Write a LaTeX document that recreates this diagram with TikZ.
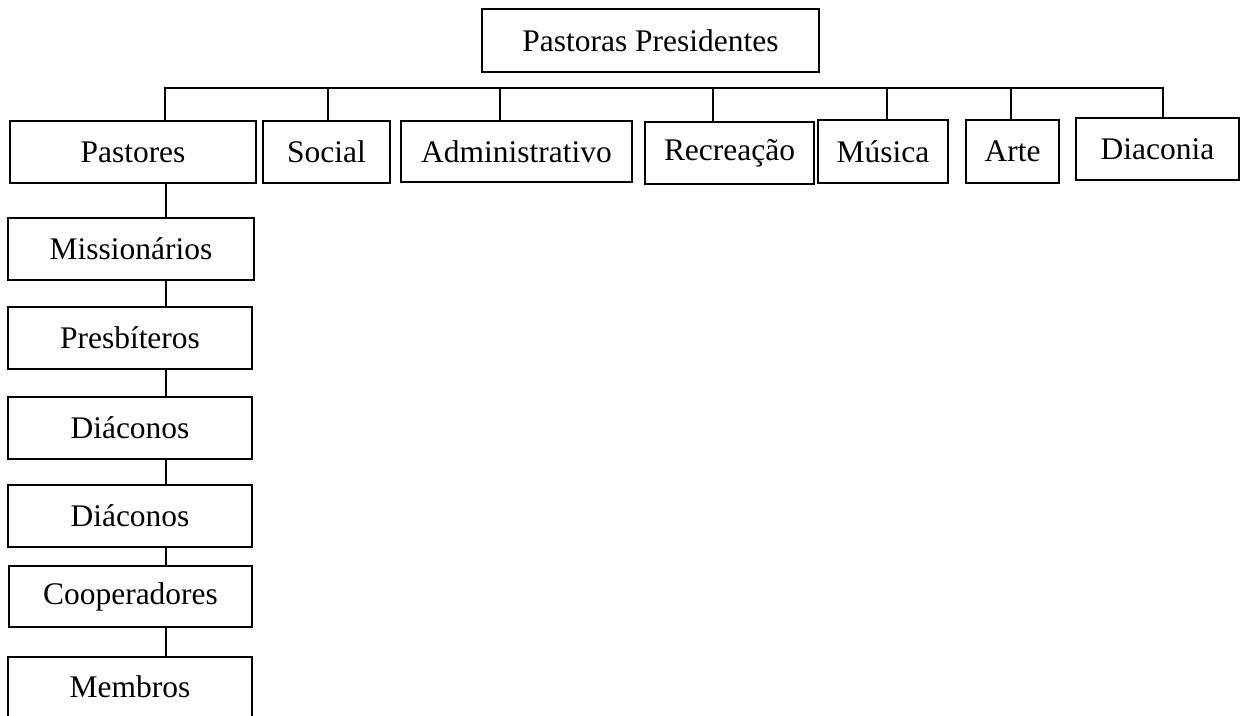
\documentclass[tikz,border=0pt]{standalone}
\usepackage{fontspec}
\setmainfont{Liberation Serif}
\begin{document}
\begin{tikzpicture}[x=0.75pt,y=-0.75pt,
  orgbox/.style={draw, line width=0.8pt, inner sep=0pt, font=\fontsize{23.6}{28}\selectfont},
  link/.style={line width=1.6pt}]
\useasboundingbox (0,0) rectangle (1241,715);
\newcommand{\orgnode}[6]{%
  \node[orgbox, minimum width={(#4-#2)*0.75pt}, minimum height={(#5-#3)*0.75pt}]
    (#1) at ({(#2+#4)/2},{(#3+#5)/2}) {#6};}
% top
\orgnode{top}{482}{9}{819}{72}{Pastoras Presidentes}
% second row
\orgnode{pastores}{10}{121}{256}{183}{Pastores}
\orgnode{social}{263}{121}{390}{183}{Social}
\orgnode{admin}{401}{121}{632}{182}{Administrativo}
\orgnode{recre}{645}{122}{814}{184}{Recreação}
\orgnode{musica}{818}{120}{948}{183}{Música}
\orgnode{arte}{966}{120}{1059}{183}{Arte}
\orgnode{diaconia}{1076}{118}{1239}{180}{Diaconia}
% chain
\orgnode{miss}{8}{218}{254}{280}{Missionários}
\orgnode{presb}{8}{307}{252}{369}{Presbíteros}
\orgnode{diac1}{8}{397}{252}{459}{Diáconos}
\orgnode{diac2}{8}{485}{252}{547}{Diáconos}
\orgnode{coop}{9}{566}{252}{627}{Cooperadores}
\orgnode{memb}{8}{657}{252}{717}{Membros}
% bus
\coordinate (b1) at (165,88);
\coordinate (b2) at (328,88);
\coordinate (b3) at (500,88);
\coordinate (b4) at (713,88);
\coordinate (b5) at (887,88);
\coordinate (b6) at (1011,88);
\coordinate (b7) at (1163,88);
\draw[link, line cap=rect] (b1) -- (b7);
\draw[link] (b1) -- (b1 |- pastores.north);
\draw[link] (b2) -- (b2 |- social.north);
\draw[link] (b3) -- (b3 |- admin.north);
\draw[link] (b4) -- (b4 |- recre.north);
\draw[link] (b5) -- (b5 |- musica.north);
\draw[link] (b6) -- (b6 |- arte.north);
\draw[link] (b7) -- (b7 |- diaconia.north);
% chain connectors
\coordinate (c) at (166,0);
\draw[link] (c |- pastores.south) -- (c |- miss.north);
\draw[link] (c |- miss.south) -- (c |- presb.north);
\draw[link] (c |- presb.south) -- (c |- diac1.north);
\draw[link] (c |- diac1.south) -- (c |- diac2.north);
\draw[link] (c |- diac2.south) -- (c |- coop.north);
\draw[link] (c |- coop.south) -- (c |- memb.north);
\end{tikzpicture}
\end{document}
